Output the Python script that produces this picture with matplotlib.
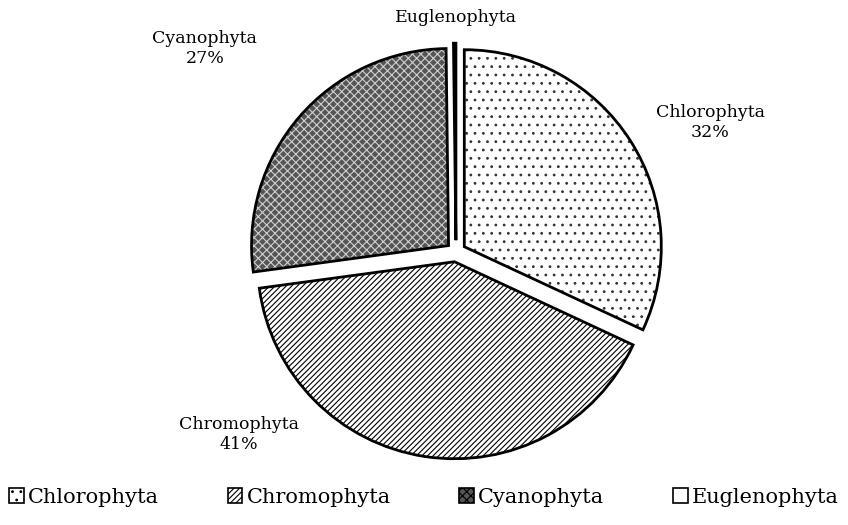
import numpy as np
import matplotlib.pyplot as plt
from matplotlib.patches import Wedge

# 조류 문(門)별 구성 비율 (%)
groups = ['Chlorophyta', 'Chromophyta', 'Cyanophyta', 'Euglenophyta']
shares = [32, 41, 27, 0.2]

hatches = ['..', '//////', 'xxxx', '']
faces = ['white', 'white', '#555555', 'white']
hatch_colors = ['#333333', 'black', '#d0d0d0', 'black']

# 라벨 위치 (각도, 반지름 배수)
label_pos = [(27, 1.45), (220, 1.44), (141, 1.64), (90, 1.19)]

plt.rcParams['font.family'] = ['DejaVu Serif']
plt.rcParams['hatch.linewidth'] = 0.8

fig = plt.figure(figsize=(8.48, 5.25), dpi=100)
ax = fig.add_axes([0, 0, 1, 1])

wedges, _ = ax.pie(shares, startangle=90, counterclock=False,
                   explode=[0.05, 0.05, 0.05, 0.06], radius=1.0,
                   colors=faces, frame=False,
                   wedgeprops=dict(linewidth=0))

for w, h, hc in zip(wedges, hatches, hatch_colors):
    w.set_hatch(h)
    w.set_edgecolor(hc)
    w.set_linewidth(0)
    # 외곽선은 별도로 그림
    outline = Wedge(w.center, w.r, w.theta1, w.theta2, fill=False,
                    edgecolor='black', linewidth=2.0, zorder=3)
    ax.add_patch(outline)

total = sum(shares)
for name, val, (ang, dist) in zip(groups, shares, label_pos):
    x = dist * np.cos(np.radians(ang))
    y = dist * np.sin(np.radians(ang))
    pct = round(val / total * 100)
    txt = name if pct == 0 else f'{name}\n{pct}%'
    ax.text(x, y, txt, ha='center', va='center', fontsize=12.5,
            linespacing=1.25)

ax.set_xlim(-456 / 197, (848 - 456) / 197)
ax.set_ylim(-(525 - 252) / 197, 252 / 197)
ax.set_aspect('equal')
ax.axis('off')

handles = []
for f, h, hc in zip(faces, hatches, hatch_colors):
    p = plt.Rectangle((0, 0), 1, 1, facecolor=f, hatch=h, edgecolor='black',
                      linewidth=1.2)
    handles.append(p)
leg = fig.legend(handles, groups, loc='center', bbox_to_anchor=(0.5, 0.053),
                 ncol=4, frameon=False, fontsize=15, handlelength=0.7,
                 handleheight=0.7, handletextpad=0.2, columnspacing=3.3)

fig.savefig('out.png', dpi=100)
